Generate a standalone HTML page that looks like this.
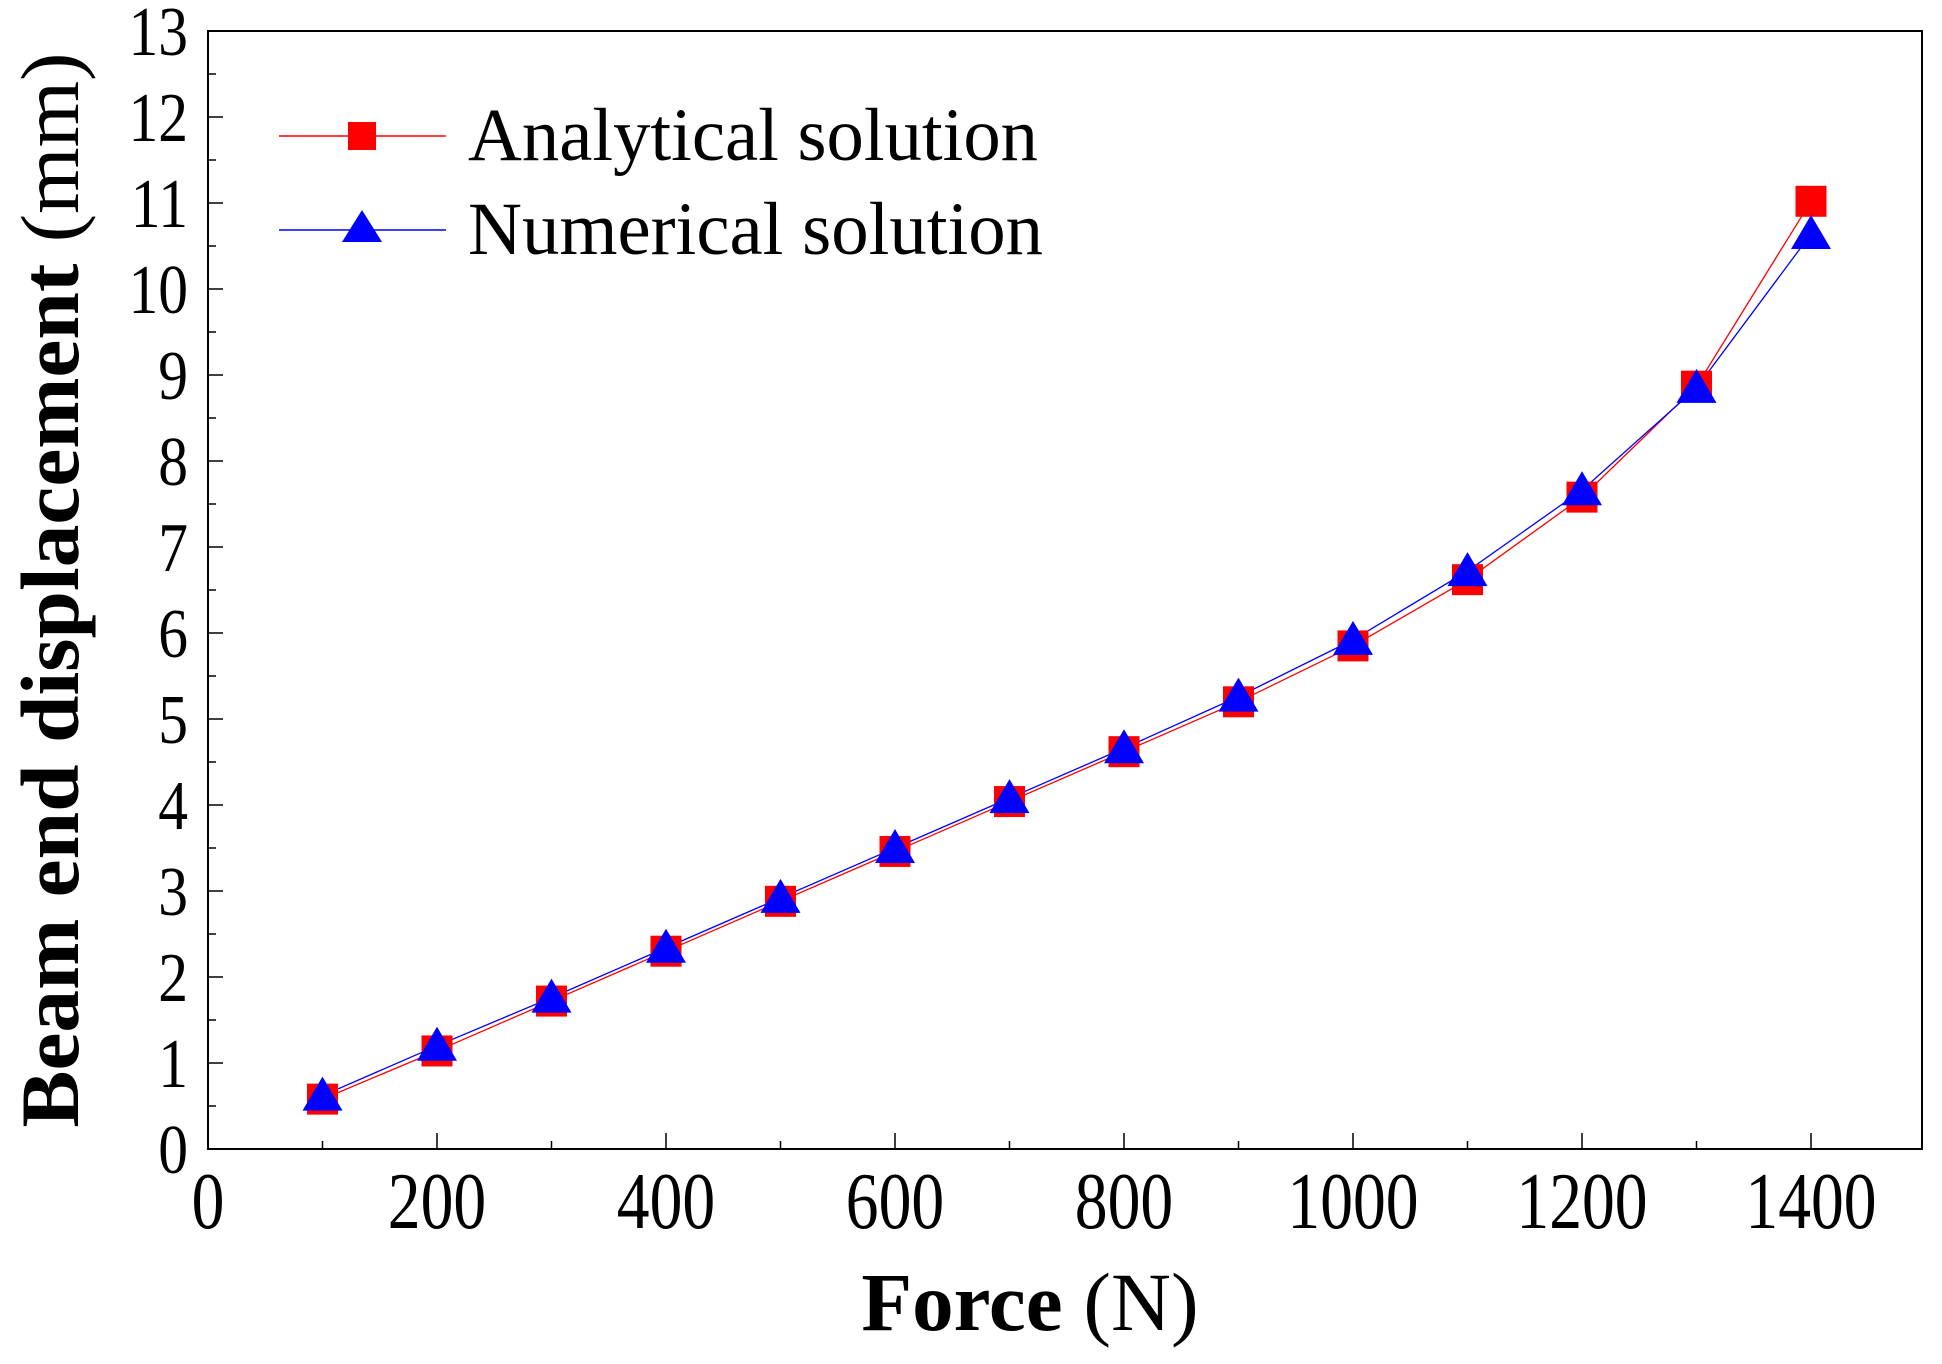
<!DOCTYPE html>
<html><head><meta charset="utf-8"><style>
html,body{margin:0;padding:0;background:#fff}
svg{display:block}
text{font-family:"Liberation Serif","Times New Roman",serif;fill:#000}
</style></head><body>
<svg id="chart" width="1942" height="1364" viewBox="0 0 1942 1364" xmlns="http://www.w3.org/2000/svg">
<g id="grid"></g>
<g id="series"></g>
<g id="legend">
  <line x1="279" y1="136" x2="446" y2="136" stroke="#f00" stroke-width="1.5"/>
  <rect x="348" y="122" width="28" height="28" fill="#f00"/>
  <text x="468" y="160" font-size="75" textLength="570" lengthAdjust="spacingAndGlyphs">Analytical solution</text>
  <line x1="279" y1="230" x2="446" y2="230" stroke="#00f" stroke-width="1.5"/>
  <polygon points="362,210 342,242 382,242" fill="#00f"/>
  <text x="468" y="254" font-size="75" textLength="575" lengthAdjust="spacingAndGlyphs">Numerical solution</text>
</g>
<text x="1030" y="1330" font-size="83" text-anchor="middle"><tspan font-weight="bold">Force</tspan> (N)</text>
<text transform="translate(78,590) rotate(-90)" font-size="83" text-anchor="middle" textLength="1075" lengthAdjust="spacingAndGlyphs"><tspan font-weight="bold">Beam end displacement</tspan> (mm)</text>
</svg>
<script>
const forces = [100,200,300,400,500,600,700,800,900,1000,1100,1200,1300,1400];
const analytical = [0.58,1.14,1.72,2.30,2.88,3.46,4.04,4.62,5.20,5.85,6.62,7.58,8.87,11.02];
const numerical = [0.62,1.20,1.76,2.34,2.92,3.50,4.08,4.66,5.26,5.92,6.72,7.66,8.85,10.64];
const xTicks = [0,200,400,600,800,1000,1200,1400];
const yTicks = [0,1,2,3,4,5,6,7,8,9,10,11,12,13];

const NS='http://www.w3.org/2000/svg';
const L=208,R=1922,T=31,B=1149;
const xMax=(R-L)/1.145;
function sx(v){return L+v*(R-L)/xMax;}
function sy(v){return B-v*(B-T)/13;}
function mk(tag,attrs,parent){const e=document.createElementNS(NS,tag);for(const k in attrs)e.setAttribute(k,attrs[k]);parent.appendChild(e);return e;}
const grid=document.getElementById('grid');
const series=document.getElementById('series');

const frame=mk('rect',{x:L,y:T,width:R-L,height:B-T,fill:'none',stroke:'#000','stroke-width':2},grid);



for(let v=100; v<xMax; v+=100){
  const major = v%200===0;
  const t=mk('line',{x1:sx(v),x2:sx(v),y1:B,y2:B-(major?16:8),stroke:'#000','stroke-width':1.5},grid);
  
  
}
xTicks.forEach(v=>{
  const t=mk('text',{x:sx(v),y:1228,'font-size':80,'text-anchor':'middle',transform:`translate(${sx(v)},0) scale(0.82,1) translate(${-sx(v)},0)`},grid);
  t.textContent=String(v);
  
  
});
for(let v=0.5; v<13; v+=0.5){
  const major = Number.isInteger(v);
  const t=mk('line',{x1:L,x2:L+(major?15:8),y1:sy(v),y2:sy(v),stroke:'#000','stroke-width':1.5},grid);
  
  
}
yTicks.forEach(v=>{
  const t=mk('text',{x:188,y:sy(v)+24,'font-size':70,'text-anchor':'end',transform:`translate(188,0) scale(0.85,1) translate(-188,0)`},grid);
  t.textContent=String(v);
  
  
});

function pts(arr){return forces.map((f,i)=>sx(f)+','+sy(arr[i])).join(' ');}
const la=mk('polyline',{points:pts(analytical),fill:'none',stroke:'#f00','stroke-width':1.3},series);


const ln=mk('polyline',{points:pts(numerical),fill:'none',stroke:'#00f','stroke-width':1.3},series);


forces.forEach((f,i)=>{
  const r=mk('rect',{x:sx(f)-15.5,y:sy(analytical[i])-15.5,width:31,height:31,fill:'#f00'},series);
  
  
});
forces.forEach((f,i)=>{
  const cx=sx(f), cy=sy(numerical[i]);
  const p=mk('polygon',{points:`${cx},${cy-19} ${cx-20},${cy+15} ${cx+20},${cy+15}`,fill:'#00f'},series);
  
  
});
</script>
</body></html>
